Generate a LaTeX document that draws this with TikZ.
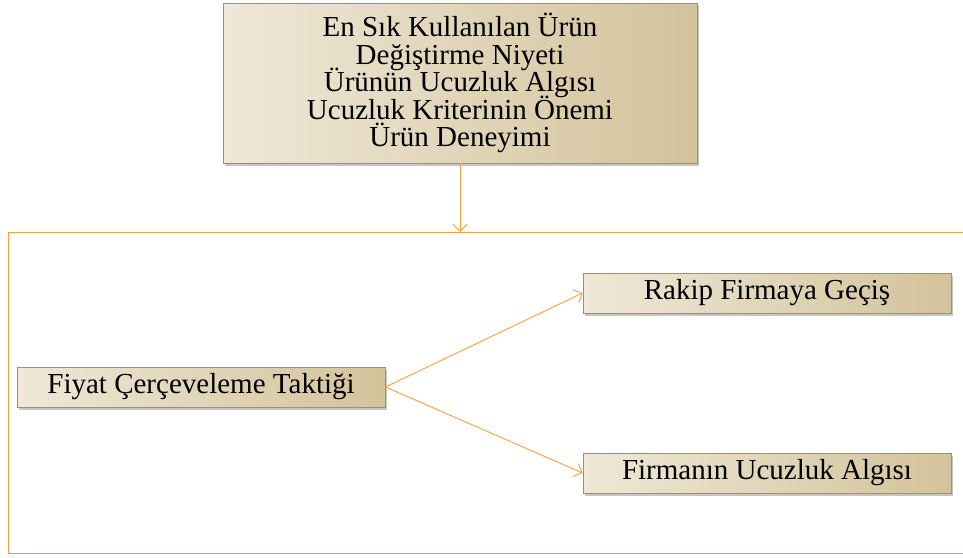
\documentclass[tikz,border=0pt]{standalone}
\usepackage{fontspec}
\setmainfont{Liberation Serif}
\usepackage{xcolor}
\usetikzlibrary{arrows.meta,shadows}
\definecolor{frameorange}{RGB}{246,160,60}
\definecolor{boxlight}{RGB}{239,232,216}
\definecolor{boxdark}{RGB}{211,195,155}
\definecolor{boxline}{RGB}{160,145,105}
\newcommand\boxfont{\fontsize{29}{27.5}\selectfont\setlength{\lineskiplimit}{-30pt}}
\tikzset{
  tanbox/.style={draw=boxline,line width=0.8pt,left color=boxlight,right color=boxdark,
    drop shadow={opacity=0.45,shadow xshift=2pt,shadow yshift=-3pt},
    align=center,font=\boxfont,inner sep=0pt},
  link/.style={draw=frameorange,line width=0.9pt,-{Straight Barb[length=7pt,width=14pt]}}
}

\begin{document}
\begin{tikzpicture}[x=1pt,y=-1pt]
\useasboundingbox (0,0) rectangle (963,557);
\draw[frameorange,line width=1pt] (990,232) -- (8,232) -- (8,553) -- (990,553);
\coordinate (frametop) at (460,232);
\node (top) at (460,83) [tanbox,minimum width=474,minimum height=160] {En Sık Kullanılan Ürün\\Değiştirme Niyeti\\Ürünün Ucuzluk Algısı\\Ucuzluk Kriterinin Önemi\\Ürün Deneyimi};
\node (fiyat) at (201,387) [tanbox,minimum width=368,minimum height=40] {Fiyat Çerçeveleme Taktiği};
\node (rakip) at (767,293) [tanbox,minimum width=368,minimum height=40] {Rakip Firmaya Geçiş};
\node (firma) at (767,473) [tanbox,minimum width=368,minimum height=40] {Firmanın Ucuzluk Algısı};
\draw[link] (top) -- (frametop);
\draw[link] (fiyat.east) -- (rakip.west);
\draw[link] (fiyat.east) -- (firma.west);
\end{tikzpicture}
\end{document}
